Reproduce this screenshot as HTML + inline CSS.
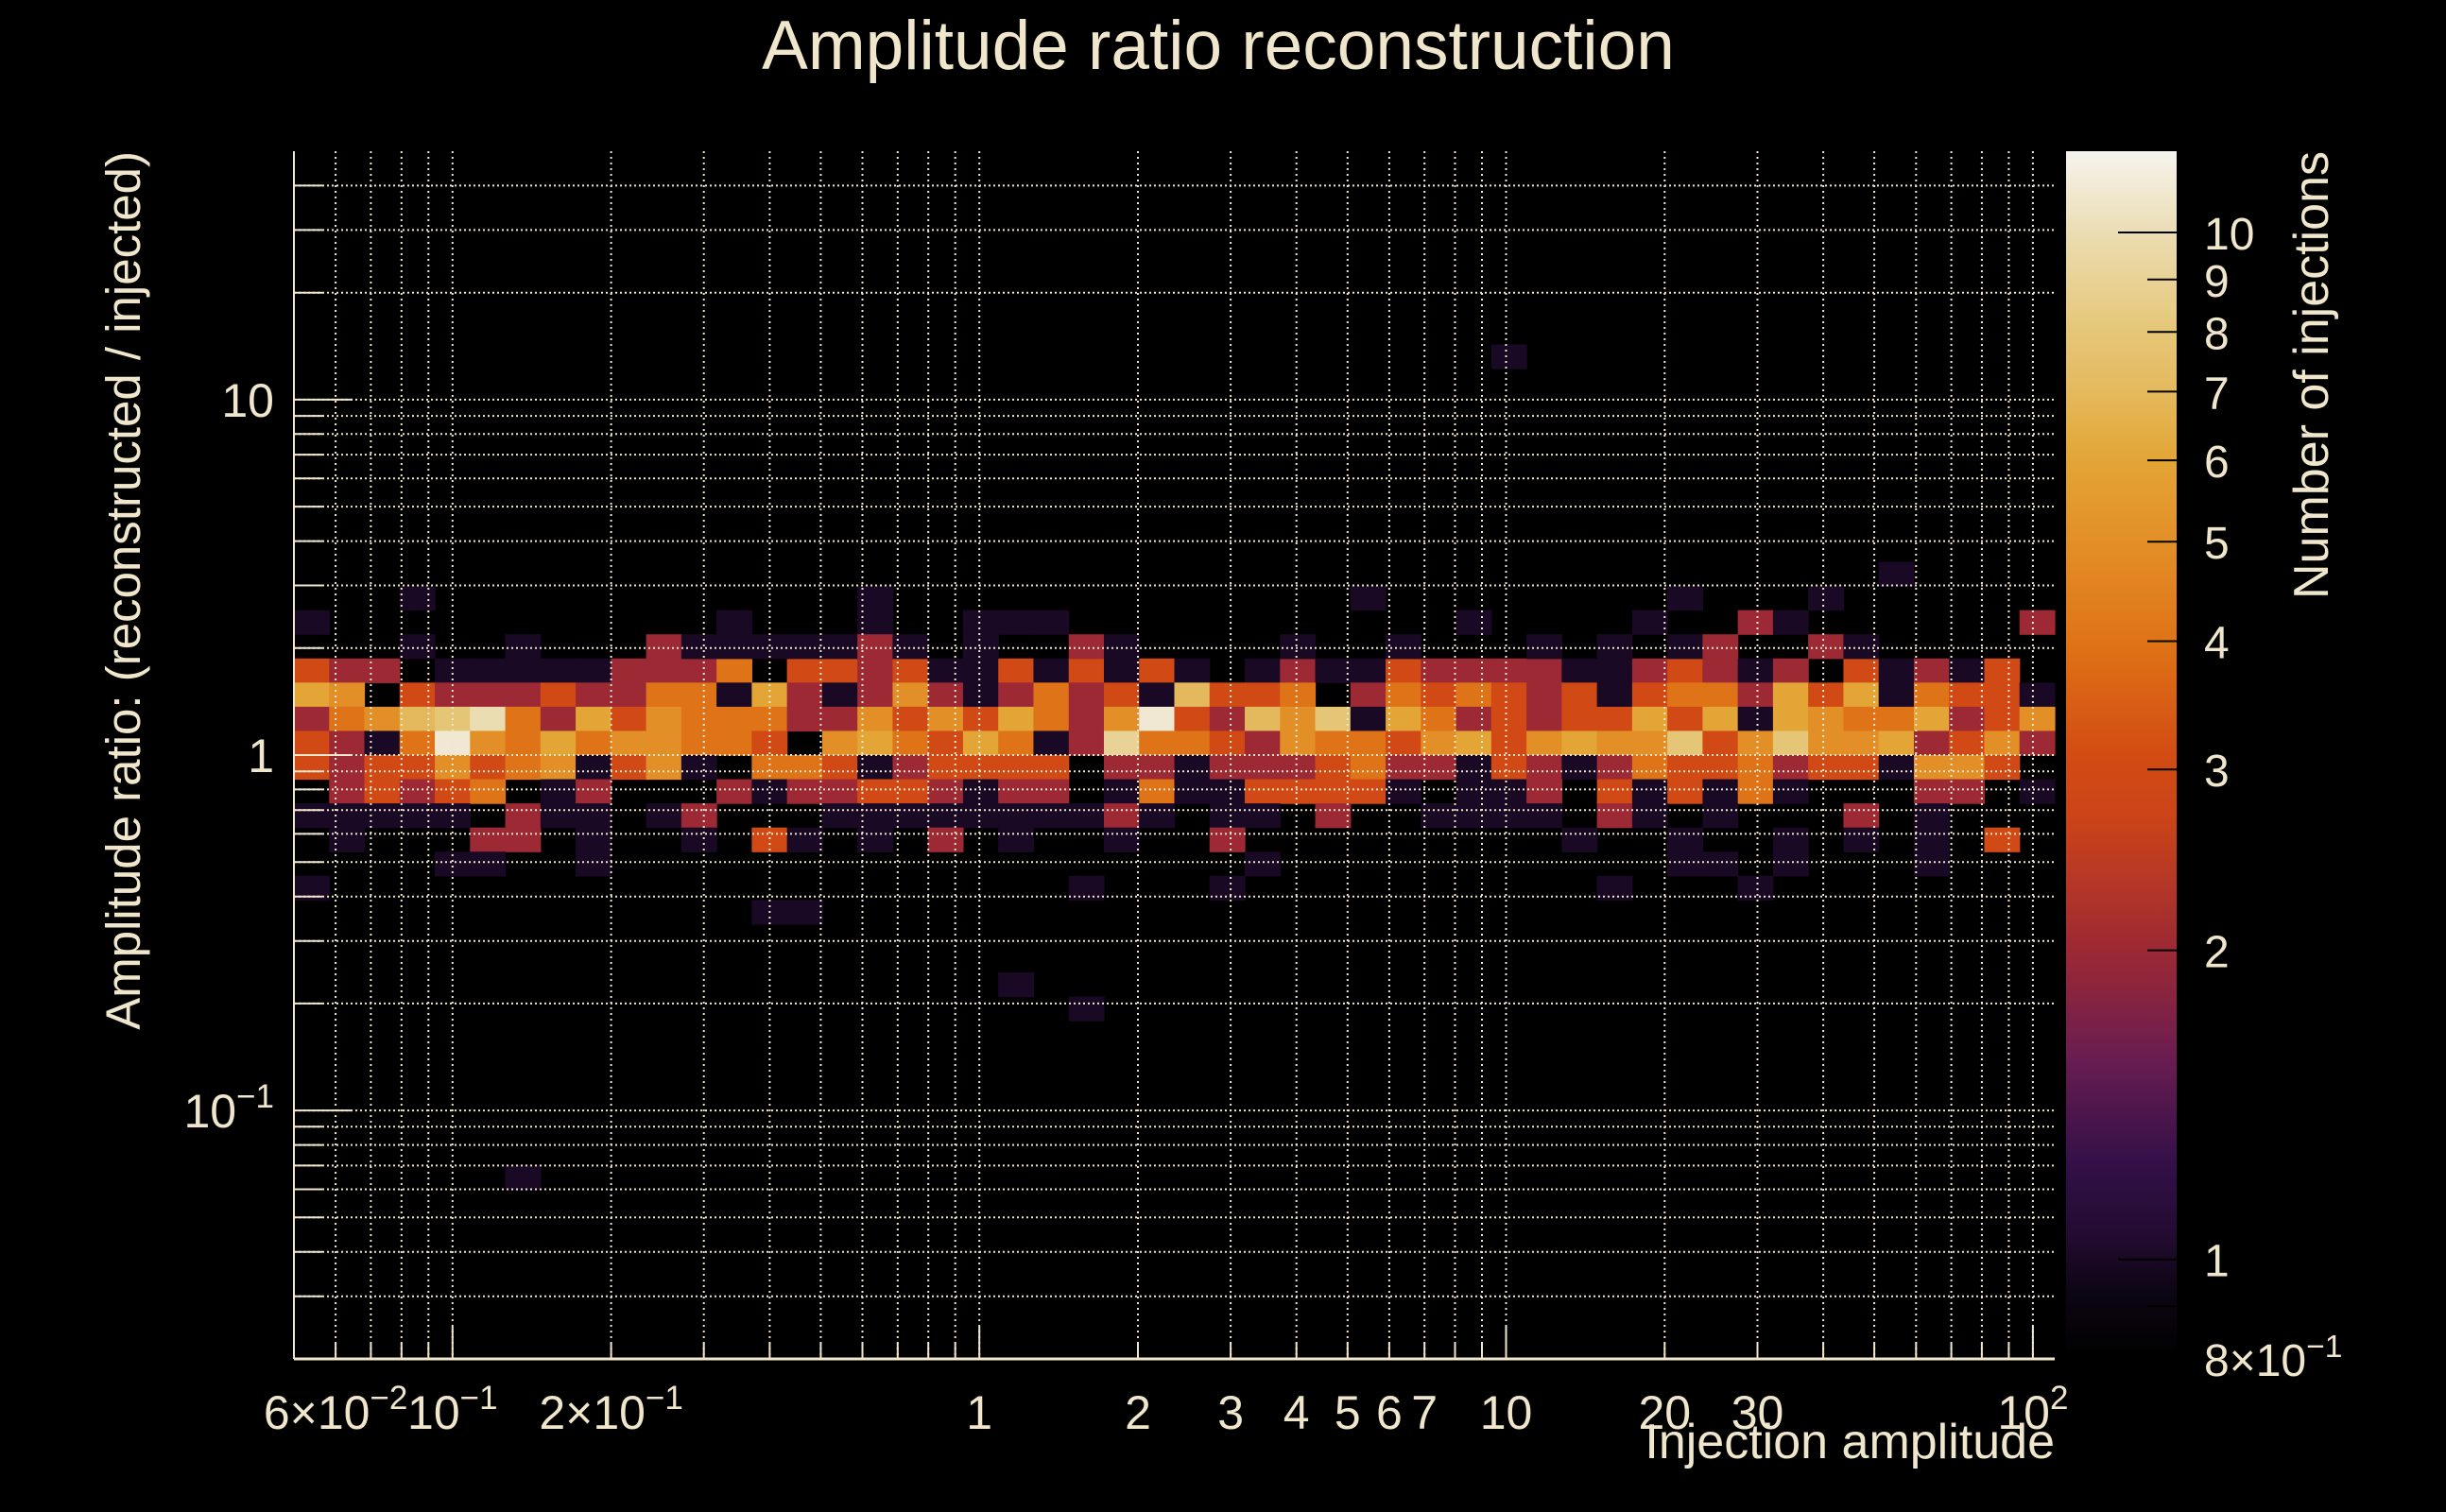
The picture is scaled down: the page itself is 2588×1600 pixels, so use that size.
<!DOCTYPE html>
<html><head><meta charset="utf-8">
<style>
html,body{margin:0;padding:0;background:#000;}
svg{display:block;}
text{font-family:"Liberation Sans",Arial,sans-serif;fill:#efe6cc;}
</style></head>
<body>
<svg id="chart" width="2588" height="1600" viewBox="0 0 2588 1600" xmlns="http://www.w3.org/2000/svg">
<rect x="0" y="0" width="2588" height="1600" fill="#000"/>
<defs><linearGradient id="cbgrad" x1="0" y1="1" x2="0" y2="0"></linearGradient></defs>
<g id="cells"></g>
<g id="grid"></g>
<g id="axes"></g>
<g id="cbar"></g>
<text x="1289" y="73" font-size="73" text-anchor="middle">Amplitude ratio reconstruction</text>
<text transform="translate(148,160) rotate(-90)" font-size="51" text-anchor="end">Amplitude ratio: (reconstructed / injected)</text>
<text x="2174" y="1543" font-size="52" text-anchor="end">Injection amplitude</text>
<text transform="translate(2463,160) rotate(-90)" font-size="52" text-anchor="end">Number of injections</text>
</svg>
<script>
// ---- data ----
const nBinsX = 50;
const nBinsY = 50;
const xRange = [0.05, 110];
const yRange = [0.02, 50];
const zRange = [0.8, 12];
const denseRows = [21, 22, 23, 24, 25, 26, 27];
const denseCounts = [
 [3,2,2,0,1,1,1,1,1,2,2,2,4,0,3,3,2,3,1,1,3,1,3,1,3, 1,0,1,2,1,1,3,2,2,2,2,1,1,2,3,2,1,2,0,3,1,2,1,3,0],
 [6,5,0,3,2,2,2,3,2,2,4,4,1,6,2,1,2,5,2,1,2,4,2,3,1, 7,3,3,4,0,2,4,3,4,3,2,3,1,3,4,4,2,6,3,6,1,4,3,3,1],
 [2,4,5,7,8,10,4,2,6,3,5,4,4,4,2,2,5,3,5,3,6,4,2,5,11, 3,2,7,5,8,1,6,4,2,3,2,3,3,6,3,6,1,6,5,4,4,6,2,3,5],
 [3,2,1,4,11,5,4,6,4,5,5,4,4,3,0,5,6,4,3,6,4,1,2,9,4, 4,3,2,5,4,4,3,5,6,3,5,6,5,5,8,3,5,8,5,5,6,2,3,5,2],
 [3,2,3,3,5,3,4,5,1,3,5,1,0,4,4,3,1,2,3,3,3,3,0,2,2, 1,2,2,2,3,4,2,2,1,3,2,1,2,4,3,3,4,2,3,3,1,5,5,3,0],
 [0,2,3,2,3,4,0,1,2,0,0,0,2,1,2,2,3,3,2,1,2,2,0,1,4, 1,1,3,3,3,3,1,0,1,1,2,0,3,1,3,1,4,1,0,0,0,2,2,0,1],
 [1,1,1,1,1,0,2,1,1,0,1,2,0,0,0,1,1,1,1,1,1,1,1,2,1, 0,1,1,0,2,0,0,1,1,1,1,0,2,1,0,1,0,0,0,2,0,1,0,0,0]
];
const sparseRow =   [8, 17, 18,18,18,18,18, 19,19,19,19,19,19,19,19,19,19,19, 20,20,20,20,20,20,20,20,20,20,20,20,20,20,20,20,20,20,20,20,20, 28,28,28,28,28,28,28,28,28,28,28,28,28,28,28,28,28,28, 29,29,29,29,29,29,29,29, 30,30,30,30,30, 31,31, 34, 35, 42];
const sparseCol =   [34, 45, 3,16,30,39,43, 0,12,16,19,20,21,33,38,41,42,49, 3,6,10,11,12,13,14,15,16,17,19,22,23,28,31,35,37,39,40,43,44, 1,5,6,8,11,13,14,16,18,20,23,26,36,39,42,44,46,48, 4,5,8,27,39,40,42,46, 0,22,26,37,41, 13,14, 20, 22, 6];
const sparseCount = [1, 1, 1,1,1,1,1, 1,1,1,1,1,1,1,1,2,1,2, 1,1,2,1,1,1,1,1,2,1,1,2,1,1,1,1,1,1,2,2,1, 1,2,2,1,1,3,1,1,2,1,1,2,1,1,1,1,1,3, 1,1,1,1,1,1,1,1, 1,1,1,1,1, 1,1, 1, 1, 1];
const xTickVals = [0.06, 0.1, 0.2, 1, 2, 3, 4, 5, 6, 7, 10, 20, 30, 100];
const xTickBase = ["6\u00d710", "10", "2\u00d710", "1", "2", "3", "4", "5", "6", "7", "10", "20", "30", "10"];
const xTickSup  = ["\u22122", "\u22121", "\u22121", "", "", "", "", "", "", "", "", "", "", "2"];
const yTickVals = [0.1, 1, 10];
const yTickBase = ["10", "1", "10"];
const yTickSup  = ["\u22121", "", ""];
const zTickVals = [0.8, 1, 2, 3, 4, 5, 6, 7, 8, 9, 10];
const zTickBase = ["8\u00d710", "1", "2", "3", "4", "5", "6", "7", "8", "9", "10"];
const zTickSup  = ["\u22121", "", "", "", "", "", "", "", "", "", ""];

// ---- layout ----
const PL = 311, PR = 2174, PT = 160, PB = 1438;
const CBL = 2186, CBR = 2303;
const NS = "http://www.w3.org/2000/svg";
function xPix(v){ return PL + Math.log10(v/xRange[0])/Math.log10(xRange[1]/xRange[0])*(PR-PL); }
function yPix(v){ return PB - Math.log10(v/yRange[0])/Math.log10(yRange[1]/yRange[0])*(PB-PT); }
function zPix(v){ return PB - Math.log10(v/zRange[0])/Math.log10(zRange[1]/zRange[0])*(PB-PT); }
function xEdge(i){ return xRange[0]*Math.pow(xRange[1]/xRange[0], i/nBinsX); }
function yEdge(j){ return yRange[0]*Math.pow(yRange[1]/yRange[0], j/nBinsY); }
const stops = [[0,"#000000"],[0.06,"#0e0616"],[0.1,"#220b30"],[0.16,"#321048"],[0.25,"#6a1d50"],[0.34,"#9e2934"],[0.45,"#cc4418"],[0.5,"#d24c14"],[0.59,"#df7216"],[0.68,"#e39028"],[0.745,"#e3a535"],[0.8,"#e4b95c"],[0.85,"#e5c677"],[0.93,"#ebdcb0"],[1,"#f5f3ee"]];
function hex(c){ return [parseInt(c.substr(1,2),16),parseInt(c.substr(3,2),16),parseInt(c.substr(5,2),16)]; }
function colorT(t){
  t = Math.max(0, Math.min(1, t));
  for (let i=1;i<stops.length;i++){
    if (t <= stops[i][0]){
      const a = stops[i-1], b = stops[i];
      const f = (t-a[0])/(b[0]-a[0]);
      const ca = hex(a[1]), cb = hex(b[1]);
      return "rgb(" + ca.map((v,k)=>Math.round(v+(cb[k]-v)*f)).join(",") + ")";
    }
  }
  return stops[stops.length-1][1];
}
function colorFor(v){ return colorT(Math.log10(v/zRange[0])/Math.log10(zRange[1]/zRange[0])); }

// ---- cells ----
const cellsG = document.getElementById("cells");
function drawCell(row, col, count){
  if (count <= 0) return;
  const j = nBinsY - 1 - row;
  const x0 = xPix(xEdge(col)), x1 = xPix(xEdge(col+1));
  const y0 = yPix(yEdge(j+1)), y1 = yPix(yEdge(j));
  const r = document.createElementNS(NS, "rect");
  r.setAttribute("x", x0.toFixed(2));
  r.setAttribute("y", y0.toFixed(2));
  r.setAttribute("width", (x1-x0+0.6).toFixed(2));
  r.setAttribute("height", (y1-y0+0.6).toFixed(2));
  r.setAttribute("fill", colorFor(count));
  
  
  cellsG.appendChild(r);
}
denseRows.forEach((row, k) => { denseCounts[k].forEach((c, col) => drawCell(row, col, c)); });
sparseRow.forEach((row, k) => drawCell(row, sparseCol[k], sparseCount[k]));

// ---- grid ----
const gridG = document.getElementById("grid");
const axesG = document.getElementById("axes");
function line(g, x1,y1,x2,y2, stroke, w, dash, name){
  const l = document.createElementNS(NS, "line");
  l.setAttribute("x1", x1); l.setAttribute("y1", y1); l.setAttribute("x2", x2); l.setAttribute("y2", y2);
  l.setAttribute("stroke", stroke); l.setAttribute("stroke-width", w);
  if (dash) l.setAttribute("stroke-dasharray", dash);
  
  
  g.appendChild(l);
}
const xGridVals = [];
[0.01, 0.1, 1, 10, 100].forEach(d => { for (let m=1;m<10;m++){ const v=d*m; if (v>xRange[0]*1.01 && v<xRange[1]*0.99) xGridVals.push(v); } });
const yGridVals = [];
[0.01, 0.1, 1, 10].forEach(d => { for (let m=1;m<10;m++){ const v=d*m; if (v>yRange[0]*1.01 && v<yRange[1]*0.99) yGridVals.push(v); } });
xGridVals.forEach(v => {
  const x = xPix(v).toFixed(1);
  line(gridG, x, PT, x, PB, "#efe6cc", 2, "2 4", "x-grid-line");
  const major = Math.abs(Math.log10(v) - Math.round(Math.log10(v))) < 1e-6;
  line(axesG, x, PB, x, PB - (major ? 34 : 17), "#efe6cc", 2, null, "x-axis-tick");
});
yGridVals.forEach(v => {
  const y = yPix(v).toFixed(1);
  line(gridG, PL, y, PR, y, "#efe6cc", 2, "2 3", "y-grid-line");
  const major = Math.abs(Math.log10(v) - Math.round(Math.log10(v))) < 1e-6;
  line(axesG, PL, y, PL + (major ? 62 : 30), y, "#efe6cc", 2, null, "y-axis-tick");
});
line(axesG, PL, PT, PL, PB, "#efe6cc", 2, null, "y-axis-line");
line(axesG, PL, PB, PR, PB, "#efe6cc", 3, null, "x-axis-line");

function label(g, x, y, base, sup, anchor, size, name){
  const t = document.createElementNS(NS, "text");
  t.setAttribute("x", x); t.setAttribute("y", y);
  t.setAttribute("font-size", size);
  t.setAttribute("text-anchor", anchor);
  t.appendChild(document.createTextNode(base));
  if (sup){
    const s = document.createElementNS(NS, "tspan");
    s.setAttribute("dy", -size*0.42);
    s.setAttribute("font-size", size*0.7);
    s.textContent = sup;
    t.appendChild(s);
  }
  
  
  g.appendChild(t);
}
xTickVals.forEach((v,i) => label(axesG, xPix(v).toFixed(1), 1512, xTickBase[i], xTickSup[i], "middle", 50, "x-tick-label"));
yTickVals.forEach((v,i) => label(axesG, 290, (yPix(v)+18).toFixed(1), yTickBase[i], yTickSup[i], "end", 50, "y-tick-label"));

// ---- colorbar ----
const grad = document.getElementById("cbgrad");
for (let k=0;k<=60;k++){
  const t = k/60;
  const s = document.createElementNS(NS, "stop");
  s.setAttribute("offset", t);
  s.setAttribute("stop-color", colorT(t));
  grad.appendChild(s);
}
const cbG = document.getElementById("cbar");
const cb = document.createElementNS(NS, "rect");
cb.setAttribute("x", CBL); cb.setAttribute("y", PT); cb.setAttribute("width", CBR-CBL); cb.setAttribute("height", PB-PT);
cb.setAttribute("fill", "url(#cbgrad)");


cbG.appendChild(cb);
[0.9,1,2,3,4,5,6,7,8,9,10].forEach(v => {
  const y = zPix(v).toFixed(1);
  const major = (v===1 || v===10);
  line(cbG, CBR - (major ? 62 : 31), y, CBR, y, "#000", 2, null, "colorbar-tick");
});
zTickVals.forEach((v,i) => label(cbG, 2332, (zPix(v)+18).toFixed(1), zTickBase[i], zTickSup[i], "start", 48, "colorbar-tick-label"));
</script>
</body></html>
